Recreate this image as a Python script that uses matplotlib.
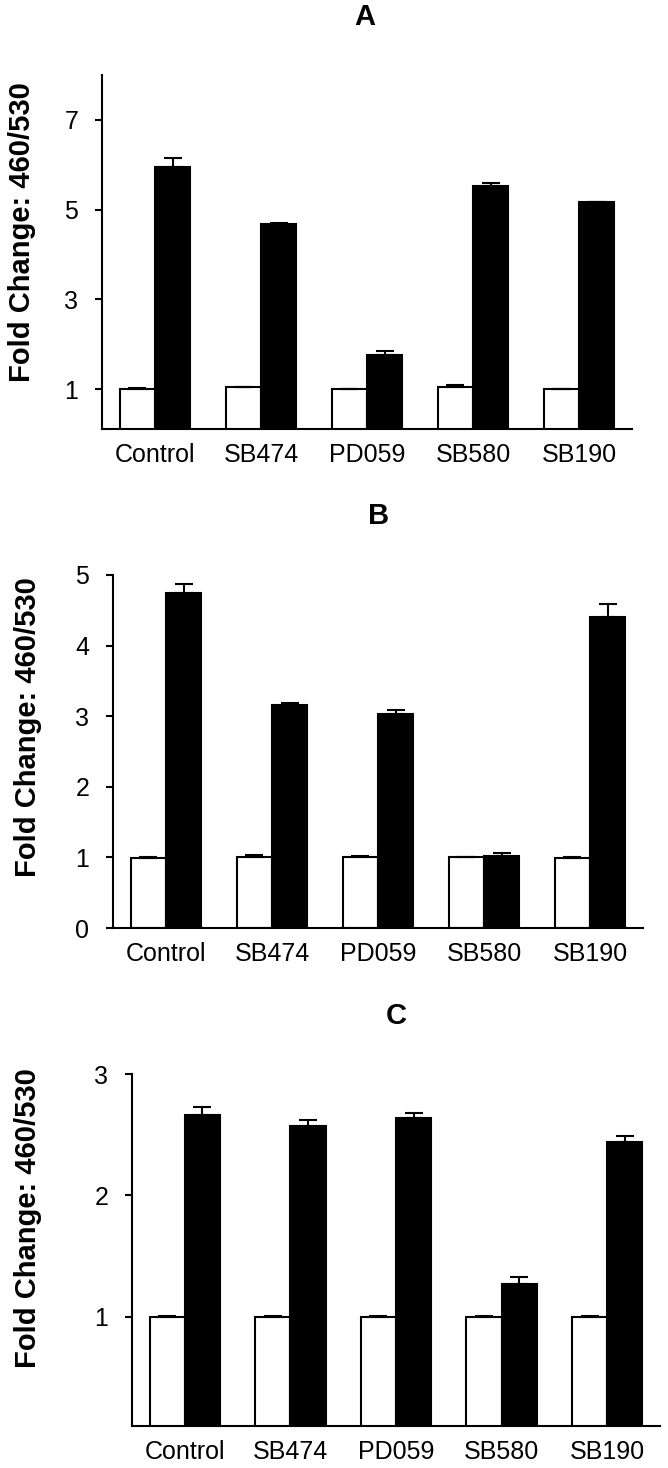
import matplotlib
matplotlib.use('Agg')
import matplotlib.pyplot as plt
import numpy as np

plt.rcParams['font.family'] = ['Liberation Sans', 'DejaVu Sans']

# 处理组
groups = ['Control', 'SB474', 'PD059', 'SB580', 'SB190']

# A
a_white = [1.0, 1.05, 1.0, 1.05, 1.0]
a_white_err = [0.03, 0.0, 0.0, 0.03, 0.0]
a_black = [5.96, 4.67, 1.77, 5.52, 5.16]
a_black_err = [0.18, 0.03, 0.08, 0.07, 0.0]
a_ticks = [1, 3, 5, 7]

# B
b_white = [0.99, 1.0, 1.0, 1.0, 0.99]
b_white_err = [0.02, 0.04, 0.02, 0.0, 0.02]
b_black = [4.75, 3.16, 3.03, 1.02, 4.40]
b_black_err = [0.12, 0.03, 0.06, 0.04, 0.19]
b_ticks = [0, 1, 2, 3, 4, 5]

# C
c_white = [1.0, 1.0, 1.0, 1.0, 1.0]
c_white_err = [0.01, 0.01, 0.01, 0.01, 0.01]
c_black = [2.66, 2.57, 2.64, 1.27, 2.44]
c_black_err = [0.07, 0.05, 0.04, 0.06, 0.05]
c_ticks = [1, 2, 3]

W, H = 668, 1468


def px_rect(left, top, right, bottom):
    return [left / W, 1 - bottom / H, (right - left) / W, (bottom - top) / H]


def draw_panel(fig, rect, white, white_err, black, black_err, ticks, ylim,
               title, title_xy, label_xy):
    ax = fig.add_axes(rect)
    x = np.arange(len(groups))
    w = 1 / 3
    n = len(groups)
    ax.bar(x - w / 2, white, w, color='white', edgecolor='black', linewidth=1.5,
           yerr=[[0] * n, white_err], capsize=6.5,
           error_kw=dict(elinewidth=1.5, capthick=1.5, ecolor='black'))
    ax.bar(x + w / 2, black, w, color='black', edgecolor='black', linewidth=1.5,
           yerr=[[0] * n, black_err], capsize=6.5,
           error_kw=dict(elinewidth=1.5, capthick=1.5, ecolor='black'))
    ax.set_xlim(-0.5, 4.5)
    ax.set_ylim(*ylim)
    ax.set_yticks(ticks)
    ax.set_xticks(x)
    ax.set_xticklabels(groups, fontsize=18)
    ax.tick_params(axis='y', labelsize=18, length=5, width=1.5, pad=12)
    ax.tick_params(axis='x', length=0, pad=10)
    for s in ['top', 'right']:
        ax.spines[s].set_visible(False)
    for s in ['left', 'bottom']:
        ax.spines[s].set_linewidth(1.5)
    fig.text(title_xy[0] / W, 1 - title_xy[1] / H, title, fontsize=21,
             fontweight='bold', ha='center', va='center')
    fig.text(label_xy[0] / W, 1 - label_xy[1] / H, 'Fold Change: 460/530',
             fontsize=21, fontweight='bold', rotation=90, ha='center', va='center')
    return ax


def main():
    fig = plt.figure(figsize=(W / 100, H / 100), dpi=100)
    draw_panel(fig, px_rect(102, 75, 632, 429), a_white, a_white_err, a_black,
               a_black_err, a_ticks, (0.11, 8), 'A', (365, 17), (22, 232))
    draw_panel(fig, px_rect(113, 575, 643, 928), b_white, b_white_err, b_black,
               b_black_err, b_ticks, (0, 5), 'B', (379, 516), (28, 727))
    draw_panel(fig, px_rect(132, 1074, 660, 1426), c_white, c_white_err, c_black,
               c_black_err, c_ticks, (0.1, 3), 'C', (396, 1016), (28, 1218))
    fig.savefig('out.png', dpi=100)


if __name__ == '__main__':
    main()
